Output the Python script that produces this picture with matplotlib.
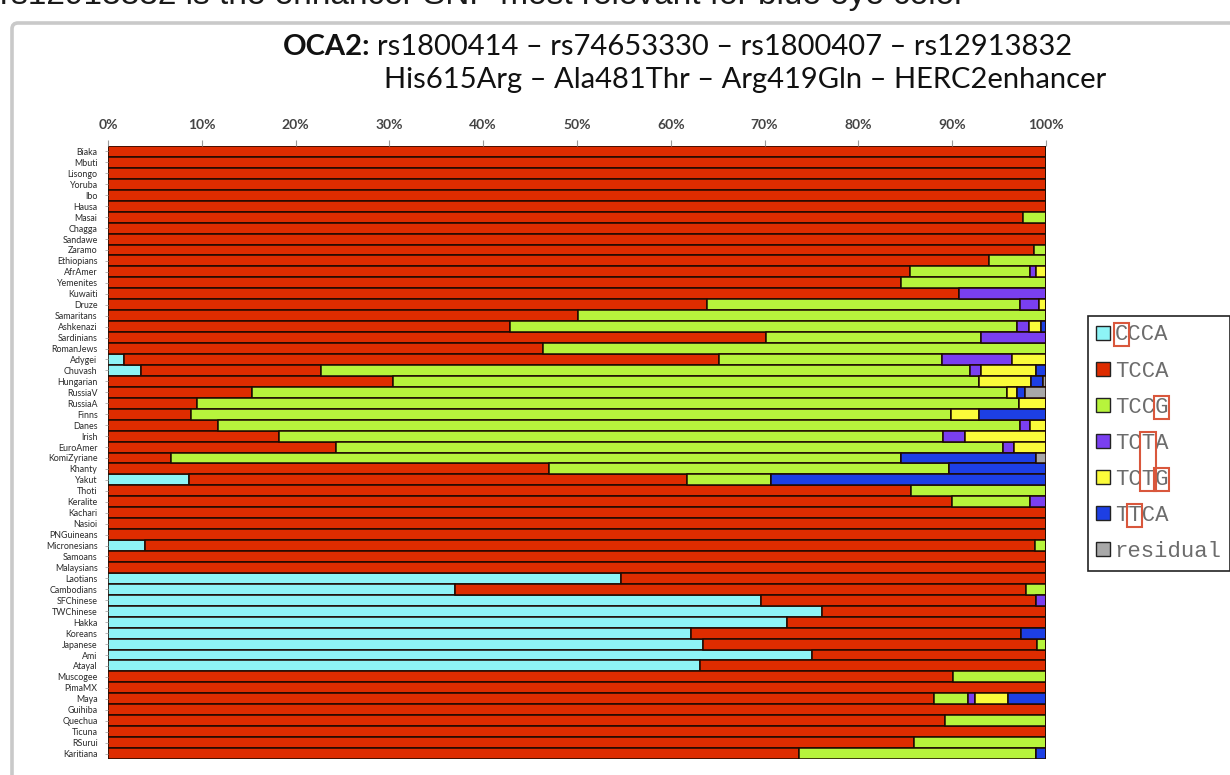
import matplotlib
matplotlib.use("Agg")
import matplotlib.pyplot as plt
from matplotlib.patches import Patch, Rectangle, FancyBboxPatch
from matplotlib.transforms import IdentityTransform
import numpy as np

# ---------------- data ----------------
populations = [
    "Biaka", "Mbuti", "Lisongo", "Yoruba", "Ibo", "Hausa", "Masai", "Chagga",
    "Sandawe", "Zaramo", "Ethiopians", "AfrAmer", "Yemenites", "Kuwaiti",
    "Druze", "Samaritans", "Ashkenazi", "Sardinians", "RomanJews", "Adygei",
    "Chuvash", "Hungarian", "RussiaV", "RussiaA", "Finns", "Danes", "Irish",
    "EuroAmer", "KomiZyriane", "Khanty", "Yakut", "Thoti", "Keralite",
    "Kachari", "Nasioi", "PNGuineans", "Micronesians", "Samoans", "Malaysians",
    "Laotians", "Cambodians", "SFChinese", "TWChinese", "Hakka", "Koreans",
    "Japanese", "Ami", "Atayal", "Muscogee", "PimaMX", "Maya", "Guihiba",
    "Quechua", "Ticuna", "RSurui", "Karitiana",
]

ccca = [0, 0, 0, 0, 0, 0, 0, 0, 0, 0, 0, 0, 0, 0,
        0, 0, 0, 0, 0, 1.7, 3.5, 0, 0, 0, 0, 0, 0,
        0, 0, 0, 8.6, 0, 0, 0, 0, 0, 3.9, 0, 0,
        54.7, 37.0, 69.6, 76.1, 72.4, 62.2, 63.4, 75.1, 63.1,
        0, 0, 0, 0, 0, 0, 0, 0]
tcca = [100, 100, 100, 100, 100, 100, 97.5, 100, 100, 98.7, 93.9, 85.5, 84.5, 90.7,
        63.9, 50.1, 42.9, 70.2, 46.4, 63.4, 19.2, 30.4, 15.4, 9.5, 8.8, 11.7, 18.2,
        24.3, 6.7, 47.0, 53.1, 85.6, 90.0, 100, 100, 100, 94.9, 100, 100,
        45.3, 60.9, 29.3, 23.9, 27.6, 35.1, 35.6, 24.9, 36.9,
        90.1, 100, 88.1, 100, 89.2, 100, 85.9, 73.7]
tccg = [0, 0, 0, 0, 0, 0, 2.5, 0, 0, 1.3, 6.1, 12.8, 15.5, 0,
        33.3, 49.9, 54.0, 22.9, 53.6, 23.8, 69.2, 62.5, 80.4, 87.6, 81.1, 85.5, 70.8,
        71.1, 77.8, 42.7, 9.0, 14.4, 8.3, 0, 0, 0, 1.2, 0, 0,
        0, 2.1, 0, 0, 0, 0, 1.0, 0, 0,
        9.9, 0, 3.6, 0, 10.8, 0, 14.1, 25.2]
tcta = [0, 0, 0, 0, 0, 0, 0, 0, 0, 0, 0, 0.6, 0, 9.3,
        2.1, 0, 1.3, 6.9, 0, 7.5, 1.2, 0, 0, 0, 0, 1.1, 2.4,
        1.2, 0, 0, 0, 0, 1.7, 0, 0, 0, 0, 0, 0,
        0, 0, 1.1, 0, 0, 0, 0, 0, 0,
        0, 0, 0.7, 0, 0, 0, 0, 0]
tctg = [0, 0, 0, 0, 0, 0, 0, 0, 0, 0, 0, 1.1, 0, 0,
        0.7, 0, 1.3, 0, 0, 3.6, 5.8, 5.5, 1.1, 2.9, 3.0, 1.7, 8.6,
        3.4, 0, 0, 0, 0, 0, 0, 0, 0, 0, 0, 0,
        0, 0, 0, 0, 0, 0, 0, 0, 0,
        0, 0, 3.5, 0, 0, 0, 0, 0]
ttca = [0, 0, 0, 0, 0, 0, 0, 0, 0, 0, 0, 0, 0, 0,
        0, 0, 0.5, 0, 0, 0, 1.1, 1.3, 0.9, 0, 7.1, 0, 0,
        0, 14.4, 10.3, 29.3, 0, 0, 0, 0, 0, 0, 0, 0,
        0, 0, 0, 0, 0, 2.7, 0, 0, 0,
        0, 0, 4.1, 0, 0, 0, 0, 1.1]
residual = [0, 0, 0, 0, 0, 0, 0, 0, 0, 0, 0, 0, 0, 0,
            0, 0, 0, 0, 0, 0, 0, 0.3, 2.2, 0, 0, 0, 0,
            0, 1.1, 0, 0, 0, 0, 0, 0, 0, 0, 0, 0,
            0, 0, 0, 0, 0, 0, 0, 0, 0,
            0, 0, 0, 0, 0, 0, 0, 0]

haplotypes = ["CCCA", "TCCA", "TCCG", "TCTA", "TCTG", "TTCA", "residual"]
hap_colors = ["#8ef4f6", "#de2c00", "#b7f43c", "#7a3ff0", "#fbfb3a", "#1d3fe4", "#a8a8a8"]

xtick_values = [0, 10, 20, 30, 40, 50, 60, 70, 80, 90, 100]
xtick_labels = ["0%", "10%", "20%", "30%", "40%", "50%", "60%", "70%", "80%", "90%", "100%"]

title_snps = "rs1800414 \u2013 rs74653330 \u2013 rs1800407 \u2013 rs12913832"
title_aa = "His615Arg \u2013 Ala481Thr \u2013 Arg419Gln \u2013 HERC2enhancer"
headline = "rs12913832 is the enhancer SNP most relevant for blue eye color"

# letters of each legend label that are boxed: (row, char index, rows spanned)
marked_letters = [(0, 0, 1), (2, 3, 1), (3, 2, 2), (4, 3, 1), (5, 1, 1)]

# ---------------- figure ----------------
W, H = 1230, 775
fig = plt.figure(figsize=(W / 100, H / 100), dpi=100)
fig.patch.set_facecolor("white")


def fx(px):
    return px / W


def fy(py):
    return 1 - py / H


# slide headline running off the top edge
fig.text(fx(0), fy(4), headline, fontsize=24, family="Liberation Sans",
         color="#1a1a1a", va="baseline", ha="left")

# slide frame
frame = FancyBboxPatch((12, -40), 1260, H - 23 + 40,
                       boxstyle="round,pad=0,rounding_size=6",
                       transform=IdentityTransform(), fill=False,
                       ec="#c9c9c9", lw=2.6)
fig.add_artist(frame)

# ---------------- bars ----------------
bar_top, bar_bottom = 146, 759
ax = fig.add_axes([fx(108), fy(bar_bottom), fx(1046) - fx(108), fy(bar_top) - fy(bar_bottom)])

series = [ccca, tcca, tccg, tcta, tctg, ttca, residual]
y = np.arange(len(populations))
left = np.zeros(len(populations))
for vals, col in zip(series, hap_colors):
    vals = np.asarray(vals, dtype=float)
    ax.barh(y, vals, left=left, height=1.0, color=col,
            edgecolor="#1e0a02", linewidth=1.1)
    left += vals

ax.set_xlim(0, 100)
ax.set_ylim(len(populations) - 0.5, -0.5)
ax.xaxis.tick_top()
ax.set_xticks(xtick_values)
ax.set_xticklabels(xtick_labels, fontsize=10, fontweight="bold",
                   family="Lato", color="#444444")
ax.tick_params(axis="x", length=4, width=0.8, color="#999999", pad=7)
ax.set_yticks(y)
ax.set_yticklabels(populations, fontsize=6.4, family="Lato", color="#2a2a2a")
ax.tick_params(axis="y", length=2.5, width=0.6, color="#aaaaaa", pad=5)
for s in ax.spines.values():
    s.set_visible(False)

# ---------------- title ----------------
title_size = 21
t_bold = fig.text(fx(283), fy(47), "OCA2:", fontsize=title_size, fontweight="bold",
                  family="Lato", color="#111111", va="center", ha="left")
fig.canvas.draw()
renderer = fig.canvas.get_renderer()
bb = t_bold.get_window_extent(renderer)
fig.text(fx(bb.x1 + 7), fy(47), title_snps, fontsize=title_size, family="Lato",
         color="#111111", va="center", ha="left")
fig.text(fx(384), fy(80), title_aa, fontsize=title_size, family="Lato",
         color="#111111", va="center", ha="left")

# ---------------- legend ----------------
handles = [Patch(facecolor=c, edgecolor="#222222", linewidth=1.0) for c in hap_colors]
leg = fig.legend(handles, haplotypes, loc="upper left",
                 bbox_to_anchor=(fx(1088), fy(316)), bbox_transform=fig.transFigure,
                 prop={"family": "Liberation Mono", "size": 16},
                 labelcolor="#6c6c6c", frameon=True, fancybox=False, framealpha=1,
                 edgecolor="#222222", borderpad=0.38, labelspacing=0.68,
                 handlelength=0.6, handleheight=0.6, handletextpad=0.22,
                 borderaxespad=0)
leg.get_frame().set_linewidth(1.2)

fig.canvas.draw()
renderer = fig.canvas.get_renderer()
texts = leg.get_texts()
for row, idx, span in marked_letters:
    first = texts[row].get_window_extent(renderer)
    last = texts[row + span - 1].get_window_extent(renderer)
    cw = first.width / len(texts[row].get_text())
    x0 = first.x0 + idx * cw - 1
    y0 = last.y0 - 1
    y1 = first.y1 + 1
    fig.add_artist(Rectangle((x0, y0), cw + 2, y1 - y0, transform=IdentityTransform(),
                             fill=False, ec="#d9573c", lw=1.5, zorder=20))

fig.savefig("out.png", dpi=100)
